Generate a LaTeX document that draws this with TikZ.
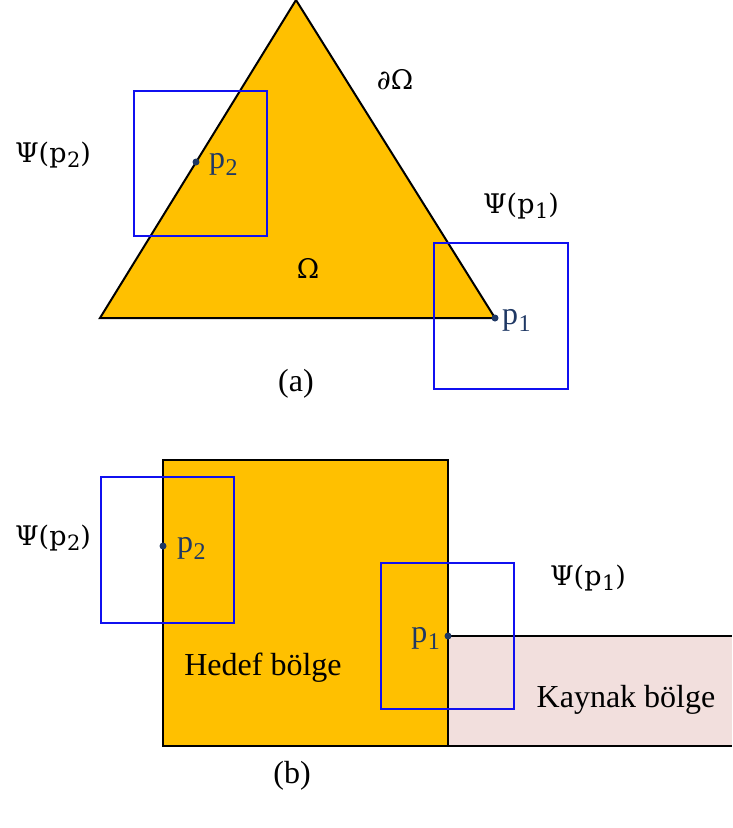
\documentclass[tikz,border=0pt]{standalone}
\usepackage{fontspec}
\setmainfont{Liberation Serif}
\newfontfamily\mathlike{DejaVu Serif}
\definecolor{gold}{HTML}{FFC000}
\definecolor{pinkbg}{HTML}{F2DFDD}
\definecolor{navy}{HTML}{1F3864}
\definecolor{boxblue}{HTML}{1010F0}
\newcommand{\psub}[1]{p\kern0.5pt\raisebox{-0.22em}{\fontsize{24}{24}\selectfont #1}}
\newcommand{\msub}[1]{p\kern0.5pt\raisebox{-0.2em}{\fontsize{21}{21}\selectfont #1}}
\begin{document}
\begin{tikzpicture}[x=1pt,y=-1pt,
  lbl/.style={font=\fontsize{32}{34}\selectfont, inner sep=0pt},
  mlbl/.style={font=\mathlike\fontsize{27}{30}\selectfont, inner sep=0pt},
  plbl/.style={lbl, text=navy},
  win/.style={draw=boxblue, line width=1.8pt},
  region/.style={draw=black, line width=2pt},
  dotp/.style={circle, fill=navy, inner sep=0pt, minimum size=7pt}]
\useasboundingbox (0,0) rectangle (732,828);
% ---------- (a) ----------
\coordinate (A) at (296,0);
\coordinate (B) at (100,318);
\coordinate (C) at (495,318);
\filldraw[region, fill=gold] (A) -- (B) -- (C) -- cycle;
\draw[win] (134,91) rectangle (267,236);
\draw[win] (434,243) rectangle (568,389);
\node[dotp] (p2a) at (196,162) {};
\node[dotp] (p1a) at (495,318) {};
\node[plbl, anchor=west] (p2al) at (209,164) {\psub{2}};
\node[plbl, anchor=west] (p1al) at (502,320) {\psub{1}};
\node[mlbl] (psi2a) at (53,155) {Ψ(\msub{2})};
\node[mlbl] (psi1a) at (521,206) {Ψ(\msub{1})};
\node[mlbl] (bd) at (395,80) {\textit{∂}Ω};
\node[mlbl] (om) at (308,268) {Ω};
\node[lbl] (capa) at (296,384) {(a)};
% ---------- (b) ----------
\fill[pinkbg] (448,636) rectangle (732,746);
\draw[black, line width=1.5pt] (448,636) -- (732,636);
\draw[black, line width=1.5pt] (448,746) -- (732,746);
\filldraw[region, fill=gold] (163,460) rectangle (448,746);
\draw[win] (101,477) rectangle (234,623);
\draw[win] (381,563) rectangle (514,709);
\node[dotp] (p2b) at (163,546) {};
\node[dotp] (p1b) at (448,636) {};
\node[plbl, anchor=west] (p2bl) at (177,548) {\psub{2}};
\node[plbl, anchor=east] (p1bl) at (440,638) {\psub{1}};
\node[mlbl] (psi2b) at (53,538) {Ψ(\msub{2})};
\node[mlbl] (psi1b) at (588,578) {Ψ(\msub{1})};
\node[lbl] (hedef) at (263,668) {Hedef bölge};
\node[lbl] (kaynak) at (626,700) {Kaynak bölge};
\node[lbl] (capb) at (292,776) {(b)};
\end{tikzpicture}
\end{document}
